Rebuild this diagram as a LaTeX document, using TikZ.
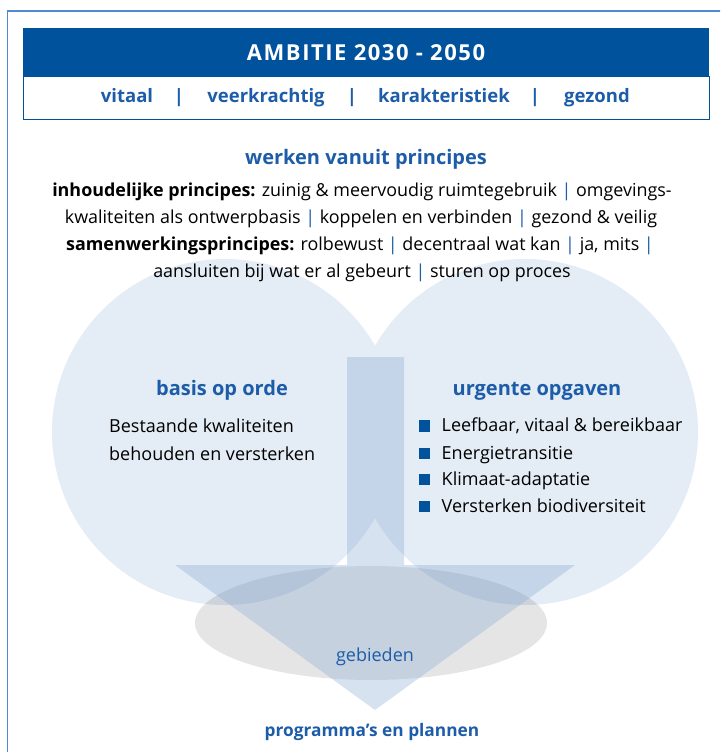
\documentclass[tikz,border=0pt]{standalone}
\usepackage{fontspec}
\setmainfont{Open Sans}
\definecolor{hblue}{RGB}{0,82,156}
\definecolor{tblue}{RGB}{28,92,168}
\definecolor{cfill}{RGB}{228,236,245}
\definecolor{afill}{RGB}{138,172,212}
\definecolor{frameblue}{RGB}{80,140,205}
\tikzset{
  txt/.style={inner sep=0pt, anchor=base, text=black, font=\fontsize{17.9}{21}\selectfont},
  bhead/.style={inner sep=0pt, anchor=base, text=tblue, font=\fontsize{20}{24}\selectfont\bfseries},
  sub/.style={inner sep=0pt, anchor=base, text=tblue, font=\fontsize{18.5}{22}\selectfont\bfseries},
  bsq/.style={fill=hblue, minimum size=11.5pt, inner sep=0pt, anchor=south west},
  item/.style={inner sep=0pt, anchor=base west, text=black, font=\fontsize{18}{21}\selectfont},
}
\newcommand{\sepbar}{\textcolor{tblue}{|}}
\begin{document}
\begin{tikzpicture}[x=1pt,y=-1pt]
\useasboundingbox (0,0) rectangle (720,752);
\clip (0,0) rectangle (720,752);
\draw[frameblue, line width=1.4pt] (7.5,11) rectangle (760,790);
% header
\fill[hblue] (23,28) rectangle (709,76);
\draw[hblue, line width=0.8pt] (23,76) rectangle (709,119.5);
\node[inner sep=0pt, anchor=base, text=white, font=\fontsize{22}{26}\selectfont\bfseries\addfontfeatures{LetterSpace=7}] (title) at (366,60) {AMBITIE 2030 - 2050};
\node[sub] (s1) at (127,102.7) {vitaal};
\node[sub] (b1) at (179,102.7) {|};
\node[sub] (s2) at (266,102.7) {veerkrachtig};
\node[sub] (b2) at (352,102.7) {|};
\node[sub] (s3) at (444,102.7) {karakteristiek};
\node[sub] (b3) at (535,102.7) {|};
\node[sub] (s4) at (597,102.7) {gezond};
% circles
\fill[cfill] (225,432) circle (173pt);
\fill[cfill] (525,432) circle (173pt);
% ellipse
\fill[black, fill opacity=0.1] (371,623) ellipse (176pt and 57pt);
% arrow
\fill[afill, fill opacity=0.35] (347,357) -- (404,357) -- (404,565) -- (575,565) -- (375,710) -- (175,565) -- (347,565) -- cycle;
% principles
\node[bhead] (wp) at (366,164) {werken vanuit principes};
\node[txt] (l1) at (362,196.7) {\textbf{inhoudelijke principes:} zuinig \& meervoudig ruimtegebruik \sepbar{} omgevings-};
\node[txt] (l2) at (361,223.5) {kwaliteiten als ontwerpbasis \sepbar{} koppelen en verbinden \sepbar{} gezond \& veilig};
\node[txt] (l3) at (360,250.7) {\textbf{samenwerkingsprincipes:} rolbewust \sepbar{} decentraal wat kan \sepbar{} ja, mits \sepbar};
\node[txt] (l4) at (362,277.5) {aansluiten bij wat er al gebeurt \sepbar{} sturen op proces};
% left
\node[bhead] (bo) at (222,395) {basis op orde};
\node[item] (bk1) at (109,432.7) {Bestaande kwaliteiten};
\node[item] (bk2) at (109,460) {behouden en versterken};
% right
\node[bhead] (uo) at (537,395) {urgente opgaven};
\node[bsq] (q1) at (418.5,432) {};
\node[item] (i1) at (441.5,431.7) {Leefbaar, vitaal \& bereikbaar};
\node[bsq] (q2) at (418.5,459.3) {};
\node[item] (i2) at (441.5,459.3) {Energietransitie};
\node[bsq] (q3) at (418.5,485.5) {};
\node[item] (i3) at (441.5,485.5) {Klimaat-adaptatie};
\node[bsq] (q4) at (418.5,512.3) {};
\node[item] (i4) at (441.5,512.3) {Versterken biodiversiteit};
% bottom
\node[inner sep=0pt, anchor=base, text=tblue, font=\fontsize{18}{21}\selectfont] (gb) at (375,661.7) {gebieden};
\node[bhead, font=\fontsize{17.3}{20}\selectfont\bfseries] (pp) at (372,736.7) {programma’s en plannen};
\end{tikzpicture}
\end{document}
